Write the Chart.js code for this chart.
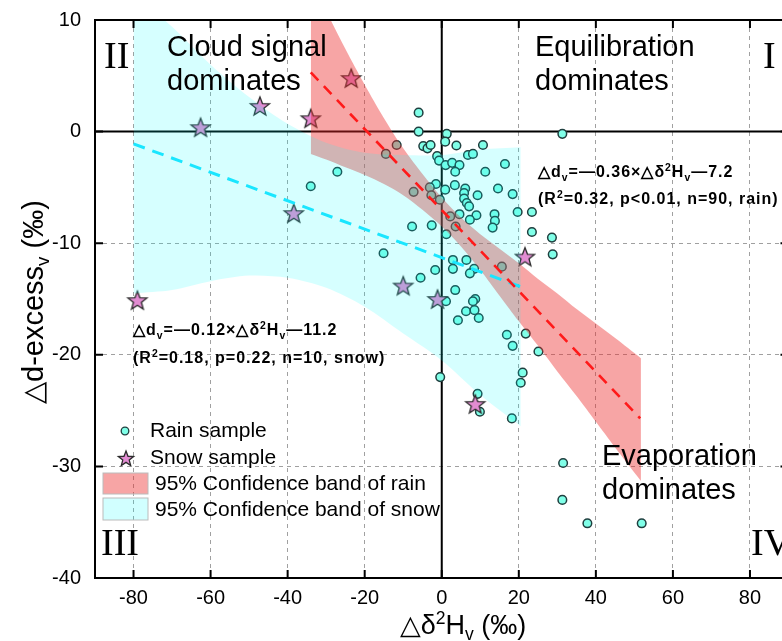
<!DOCTYPE html>
<html>
<head>
<meta charset="utf-8">
<script src="https://cdn.jsdelivr.net/npm/chart.js@4.4.1/dist/chart.umd.min.js"></script>
<style>
  html, body { margin: 0; padding: 0; background: #fff; overflow: hidden; }
  #wrap { width: 800px; height: 641px; }
</style>
</head>
<body>
<div id="wrap"><canvas id="chart" width="800" height="641"></canvas></div>
<script>
// rain samples [d2H, d-excess]
var rainSamples = [
  [-6.0, 1.7], [-6.0, 0.0], [1.3, -0.2], [0.9, -0.9], [31.3, -0.2], [-4.8, -1.3], [-3.7, -1.5],
  [-2.9, -1.2], [3.8, -1.25], [10.7, -1.2], [6.8, -2.1], [8.1, -2.0], [-1.2, -2.2], [-0.7, -2.6],
  [1.0, -3.0], [2.7, -2.8], [4.6, -3.0], [3.5, -3.6], [11.3, -3.6], [16.4, -2.9], [-1.5, -4.7],
  [0.9, -5.2], [3.4, -4.8], [6.1, -5.1], [5.8, -5.5], [5.8, -6.0], [6.5, -6.4], [7.1, -6.7],
  [9.3, -5.7], [14.6, -5.1], [18.4, -5.6], [19.7, -7.2], [23.4, -7.2], [9.0, -7.5], [13.7, -7.4],
  [13.8, -8.0], [13.2, -8.6], [4.6, -7.4], [7.3, -7.9], [-7.7, -8.5], [-2.6, -8.4], [-11.7, -1.2],
  [-14.5, -2.0], [-7.3, -5.4], [-3.1, -5.0], [-2.7, -5.7], [-0.5, -6.1], [2.2, -7.6], [3.6, -8.5],
  [1.2, -9.2], [15.6, -12.1], [2.9, -11.5], [2.9, -12.3], [6.4, -11.5], [8.4, -12.3], [7.3, -12.7],
  [-1.7, -12.4], [-5.5, -13.1], [3.5, -14.2], [1.1, -15.2], [8.7, -15.0], [8.1, -15.2], [6.3, -16.1],
  [8.5, -16.0], [9.6, -16.7], [4.2, -16.9], [23.4, -9.0], [28.6, -9.5], [28.8, -11.0], [-15.1, -10.9],
  [16.9, -18.2], [21.8, -18.1], [18.4, -19.2], [25.1, -19.7], [-0.4, -22.0], [21.0, -21.6], [20.5, -22.5],
  [9.3, -23.5], [9.9, -25.1], [18.2, -25.7], [31.5, -29.7], [31.3, -33.0], [37.8, -35.1], [51.9, -35.1],
  [-27.1, -3.6], [-34.0, -4.9]
];
// snow samples
var snowSamples = [
  [-79.0, -15.1], [-62.6, 0.4], [-47.2, 2.3], [-34.0, 1.2], [-23.5, 4.8],
  [-38.4, -7.3], [-10.0, -13.8], [-1.1, -15.0], [8.7, -24.4], [21.6, -11.2]
];

// fitted lines (end points)
var rainFitX = [-34, 51.5];
var rainFitY = [5.3, -25.7];
var snowFitX = [-80, 20.5];
var snowFitY = [-1.1, -13.9];

// 95% confidence bands
var rainBandX     = [-34, -30, -25, -20, -15, -10, -5, 0, 5, 10, 15, 20, 25, 30, 35, 40, 45, 51.7];
var rainBandUpper = [13.5, 10.8, 7.4, 4.2, 1.2, -1.5, -3.8, -5.9, -7.7, -9.2, -10.5, -11.8, -13.2, -14.5, -15.9, -17.2, -18.5, -20.3];
var rainBandLower = [-2.0, -2.5, -3.2, -3.9, -4.7, -5.7, -7.0, -8.5, -10.3, -12.4, -14.7, -17.0, -19.2, -21.5, -23.7, -26.0, -28.3, -31.3];
var snowBandX     = [-80, -70, -60, -50, -40, -30, -20, -10, 0, 10, 20.5];
var snowBandUpper = [12.3, 9.4, 6.0, 3.1, 0.7, -1.0, -1.9, -2.1, -2.1, -1.6, -1.4];
var snowBandLower = [-14.5, -14.2, -13.4, -12.9, -13.1, -14.0, -15.7, -18.1, -20.5, -23.6, -26.4];

var xTicks = [-80, -60, -40, -20, 0, 20, 40, 60, 80];
var yTicks = [10, 0, -10, -20, -30, -40];

function pts(xs, ys) { return xs.map(function (x, i) { return { x: x, y: ys[i] }; }); }
function pairs(a) { return a.map(function (p) { return { x: p[0], y: p[1] }; }); }

// filled 5-point star as a point image
function makeStar(R, r, fill, stroke) {
  var s = Math.ceil(2 * R + 4);
  var c = document.createElement('canvas');
  c.width = s; c.height = s;
  var g = c.getContext('2d');
  g.beginPath();
  for (var i = 0; i < 10; i++) {
    var a = -Math.PI / 2 + i * Math.PI / 5;
    var rr = i % 2 ? r : R;
    g.lineTo(s / 2 + rr * Math.cos(a), s / 2 + 1 + rr * Math.sin(a));
  }
  g.closePath();
  g.fillStyle = fill; g.fill();
  g.lineWidth = 1.3; g.strokeStyle = stroke; g.stroke();
  return c;
}
var starImg = makeStar(10, 4.2, '#E28CD2', '#2b2b2b');
var starSmall = makeStar(8, 3.4, '#E28CD2', '#2b2b2b');

var RED_BAND = 'rgba(235, 40, 40, 0.42)';
var CYAN_BAND = 'rgba(0, 255, 255, 0.16)';

// text with sub/superscripts: segs = [[text, ''|'sub'|'sup'], ...]
function richWidth(ctx, segs, size, weight) {
  var w = 0;
  segs.forEach(function (s) {
    var fs = s[1] ? size * 0.65 : size;
    ctx.font = weight + ' ' + fs + 'px "Liberation Sans", Arial, sans-serif';
    w += ctx.measureText(s[0]).width;
  });
  return w;
}
function drawRich(ctx, segs, x, y, size, weight, align) {
  var w = richWidth(ctx, segs, size, weight);
  var cx = align === 'center' ? x - w / 2 : x;
  ctx.textAlign = 'left';
  ctx.textBaseline = 'alphabetic';
  segs.forEach(function (s) {
    var fs = s[1] ? size * 0.65 : size;
    var dy = s[1] === 'sub' ? size * 0.22 : (s[1] === 'sup' ? -size * 0.38 : 0);
    ctx.font = weight + ' ' + fs + 'px "Liberation Sans", Arial, sans-serif';
    ctx.fillText(s[0], cx, y + dy);
    cx += ctx.measureText(s[0]).width;
  });
}

var framePlugin = {
  id: 'frame',
  beforeDatasetsDraw: function (chart) {
    var ctx = chart.ctx, a = chart.chartArea;
    var x0 = chart.scales.x.getPixelForValue(0);
    var y0 = chart.scales.y.getPixelForValue(0);
    ctx.save();
    ctx.strokeStyle = '#000'; ctx.lineWidth = 2;
    ctx.beginPath();
    ctx.moveTo(x0, a.top); ctx.lineTo(x0, a.bottom);
    ctx.moveTo(a.left, y0); ctx.lineTo(a.right, y0);
    ctx.stroke();
    ctx.restore();
  },
  afterDatasetsDraw: function (chart) {
    var ctx = chart.ctx, a = chart.chartArea;
    var sx = chart.scales.x, sy = chart.scales.y;
    ctx.save();
    ctx.strokeStyle = '#000'; ctx.lineWidth = 2;
    ctx.strokeRect(a.left, a.top, a.right - a.left, a.bottom - a.top);
    ctx.beginPath();
    xTicks.forEach(function (v) {
      var px = sx.getPixelForValue(v);
      ctx.moveTo(px, a.bottom); ctx.lineTo(px, a.bottom - 8);
      ctx.moveTo(px, a.top); ctx.lineTo(px, a.top + 8);
    });
    yTicks.forEach(function (v) {
      var py = sy.getPixelForValue(v);
      ctx.moveTo(a.left, py); ctx.lineTo(a.left + 8, py);
      ctx.moveTo(a.right, py); ctx.lineTo(a.right - 8, py);
    });
    ctx.stroke();
    ctx.restore();
  },
  afterDraw: function (chart) {
    var ctx = chart.ctx;
    ctx.save();
    ctx.fillStyle = '#000';

    // region labels
    ctx.font = '29px "Liberation Sans", Arial, sans-serif';
    ctx.textAlign = 'left'; ctx.textBaseline = 'alphabetic';
    ctx.fillText('Cloud signal', 167, 56);
    ctx.fillText('dominates', 167, 90);
    ctx.fillText('Equilibration', 535, 56);
    ctx.fillText('dominates', 535, 90);
    ctx.fillText('Evaporation', 602, 465);
    ctx.fillText('dominates', 602, 499);

    // quadrant numerals
    ctx.font = '38px "Liberation Serif", "Times New Roman", serif';
    ctx.fillText('II', 104, 68);
    ctx.fillText('I', 763, 68);
    ctx.fillText('III', 101, 555);
    ctx.fillText('IV', 751, 555);

    // regression equations
    ctx.letterSpacing = '1px';
    var rainEq = [['\u25B3d', ''], ['v', 'sub'], ['=\u20140.36\u00D7\u25B3\u03B4', ''], ['2', 'sup'], ['H', ''], ['v', 'sub'], ['\u20147.2', '']];
    var rainStat = [['(R', ''], ['2', 'sup'], ['=0.32, p<0.01, n=90, rain)', '']];
    var snowEq = [['\u25B3d', ''], ['v', 'sub'], ['=\u20140.12\u00D7\u25B3\u03B4', ''], ['2', 'sup'], ['H', ''], ['v', 'sub'], ['\u201411.2', '']];
    var snowStat = [['(R', ''], ['2', 'sup'], ['=0.18, p=0.22, n=10, snow)', '']];
    drawRich(ctx, rainEq, 538, 177, 16, 'bold', 'left');
    drawRich(ctx, rainStat, 538, 204, 16, 'bold', 'left');
    drawRich(ctx, snowEq, 133, 335, 16, 'bold', 'left');
    drawRich(ctx, snowStat, 133, 363, 16, 'bold', 'left');
    ctx.letterSpacing = '0px';

    // legend
    ctx.beginPath();
    ctx.arc(125, 431, 3.8, 0, Math.PI * 2);
    ctx.fillStyle = '#80FFE8'; ctx.fill();
    ctx.lineWidth = 1.3; ctx.strokeStyle = '#1f3f3f'; ctx.stroke();
    ctx.drawImage(starSmall, 126 - starSmall.width / 2, 458 - starSmall.height / 2);
    ctx.fillStyle = RED_BAND;
    ctx.fillRect(103, 473, 45, 21);
    ctx.fillStyle = 'rgba(0, 255, 255, 0.18)';
    ctx.fillRect(103, 498, 45, 22);
    ctx.strokeStyle = '#bbb'; ctx.lineWidth = 1;
    ctx.strokeRect(103, 473, 45, 21);
    ctx.strokeRect(103, 498, 45, 22);
    ctx.fillStyle = '#000';
    ctx.font = '21px "Liberation Sans", Arial, sans-serif';
    ctx.textBaseline = 'middle';
    ctx.fillText('Rain sample', 150, 431);
    ctx.fillText('Snow sample', 150, 458);
    ctx.fillText('95% Confidence band of rain', 155, 484);
    ctx.fillText('95% Confidence band of snow', 155, 510);

    // axis titles
    drawRich(ctx, [['\u25B3\u03B4', ''], ['2', 'sup'], ['H', ''], ['v', 'sub'], [' (\u2030)', '']], 463, 634, 27, 'normal', 'center');
    ctx.translate(43, 302);
    ctx.rotate(-Math.PI / 2);
    drawRich(ctx, [['\u25B3d-excess', ''], ['v', 'sub'], [' (\u2030)', '']], 0, 0, 29, 'normal', 'center');
    ctx.restore();
  }
};

var ctx = document.getElementById('chart').getContext('2d');
new Chart(ctx, {
  type: 'scatter',
  data: {
    datasets: [
      { // rain fit
        type: 'line', data: pts(rainFitX, rainFitY),
        borderColor: '#FF1A1A', borderWidth: 2.6, borderDash: [11, 8],
        pointRadius: 0, fill: false
      },
      { // snow fit
        type: 'line', data: pts(snowFitX, snowFitY),
        borderColor: '#1AE6FF', borderWidth: 3, borderDash: [12, 8],
        pointRadius: 0, fill: false
      },
      { // snow band upper
        type: 'line', data: pts(snowBandX, snowBandUpper),
        borderWidth: 0, pointRadius: 0, tension: 0.3,
        fill: '+1', backgroundColor: CYAN_BAND
      },
      { // snow band lower
        type: 'line', data: pts(snowBandX, snowBandLower),
        borderWidth: 0, pointRadius: 0, tension: 0.3, fill: false
      },
      { // rain band upper
        type: 'line', data: pts(rainBandX, rainBandUpper),
        borderWidth: 0, pointRadius: 0, tension: 0.3,
        fill: '+1', backgroundColor: RED_BAND
      },
      { // rain band lower
        type: 'line', data: pts(rainBandX, rainBandLower),
        borderWidth: 0, pointRadius: 0, tension: 0.3, fill: false
      },
      { // snow samples
        label: 'Snow sample', data: pairs(snowSamples),
        pointStyle: starImg
      },
      { // rain samples
        label: 'Rain sample', data: pairs(rainSamples),
        pointStyle: 'circle', pointRadius: 4.3,
        backgroundColor: '#80FFE8', borderColor: '#1f3f3f', borderWidth: 1.5
      }
    ]
  },
  options: {
    responsive: false,
    animation: false,
    layout: { padding: { top: 20, right: 11.5, left: 0, bottom: 0 } },
    plugins: { legend: { display: false }, tooltip: { enabled: false } },
    scales: {
      x: {
        type: 'linear', min: -90, max: 90,
        afterBuildTicks: function (s) { s.ticks = xTicks.map(function (v) { return { value: v }; }); },
        afterFit: function (s) { s.height = 63; s.paddingLeft = 0; s.paddingRight = 0; },
        grid: { color: '#a0a0a0', lineWidth: 1, drawTicks: false },
        border: { display: false, dash: [4, 4] },
        ticks: { color: '#000', padding: 8, maxRotation: 0, font: { size: 20, family: '"Liberation Sans", Arial' } }
      },
      y: {
        type: 'linear', min: -40, max: 10,
        afterBuildTicks: function (s) { s.ticks = yTicks.map(function (v) { return { value: v }; }); },
        afterFit: function (s) { s.width = 95; s.paddingTop = 0; s.paddingBottom = 0; },
        grid: { color: '#a0a0a0', lineWidth: 1, drawTicks: false },
        border: { display: false, dash: [4, 4] },
        ticks: { color: '#000', padding: 14, font: { size: 20, family: '"Liberation Sans", Arial' } }
      }
    }
  },
  plugins: [framePlugin]
});
</script>
</body>
</html>
